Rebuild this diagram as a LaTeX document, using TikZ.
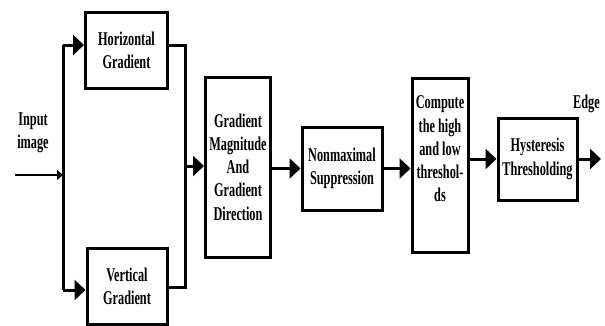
\documentclass[tikz,border=0pt]{standalone}
\usepackage{fontspec}
\setmainfont{Liberation Serif}[FakeStretch=0.63]
\usetikzlibrary{arrows.meta}

\tikzset{
  blk/.style={draw,line width=3pt,inner sep=0pt,align=center,
    font=\fontsize{19.5}{23.3}\selectfont\bfseries},
  lbl/.style={inner sep=0pt,align=center,font=\fontsize{19.5}{23.3}\selectfont\bfseries},
  wire/.style={line width=3pt},
  arr/.style={line width=3pt,-{Triangle[length=11pt,width=20pt]}},
  thinarr/.style={line width=2.5pt,-{Triangle[length=6pt,width=10pt]}}
}

\begin{document}
\begin{tikzpicture}[x=1pt,y=-1pt]%edge detection flow
\useasboundingbox (0,0) rectangle (605,325);
\node[blk,minimum width=82pt,minimum height=76pt] (hgrad) at (126.5,50) {Horizontal\\Gradient};
\node[blk,minimum width=80pt,minimum height=76pt] (vgrad) at (127,286) {Vertical\\Gradient};
\node[blk,minimum width=65pt,minimum height=180pt] (gmag) at (238,167) {Gradient\\Magnitude\\And\\Gradient\\Direction};
\node[blk,minimum width=80pt,minimum height=83pt] (nms) at (342,168.5) {Nonmaximal\\Suppression};
\node[blk,minimum width=56pt,minimum height=174pt] (thr) at (440,165.5) {Compute\\the high\\and low\\threshol-\\ds\\[10pt]{}};
\node[blk,minimum width=79pt,minimum height=82pt] (hyst) at (537.5,159) {Hysteresis\\Thresholding};
\node[lbl] (inimg) at (33,133) {Input\\image};
\node[lbl,anchor=west] (edge) at (573,104) {Edge};
\coordinate (instart) at (15,175);
\coordinate (split) at (63,175);
\coordinate (ltop) at (63,45);
\coordinate (lbot) at (63,290);
\coordinate (rtop) at (185,45);
\coordinate (rbot) at (185,287);
\coordinate (rmid) at (185,166);
\coordinate (out) at (601,159);
\draw[thinarr] (instart) -- (split);
\draw[wire] (ltop) -- (lbot);
\draw[arr] (ltop) -- (ltop -| hgrad.west);
\draw[arr] (lbot) -- (lbot -| vgrad.west);
\draw[wire] (hgrad.east |- rtop) -- (rtop) -- (rbot) -- (vgrad.east |- rbot);
\draw[arr] (rmid) -- (rmid -| gmag.west);
\draw[arr] (gmag.east |- nms.west) -- (nms.west);
\draw[arr] (nms.east) -- (nms.east -| thr.west);
\draw[arr] (thr.east |- hyst.west) -- (hyst.west);
\draw[arr] (hyst.east) -- (out);
\end{tikzpicture}
\end{document}
